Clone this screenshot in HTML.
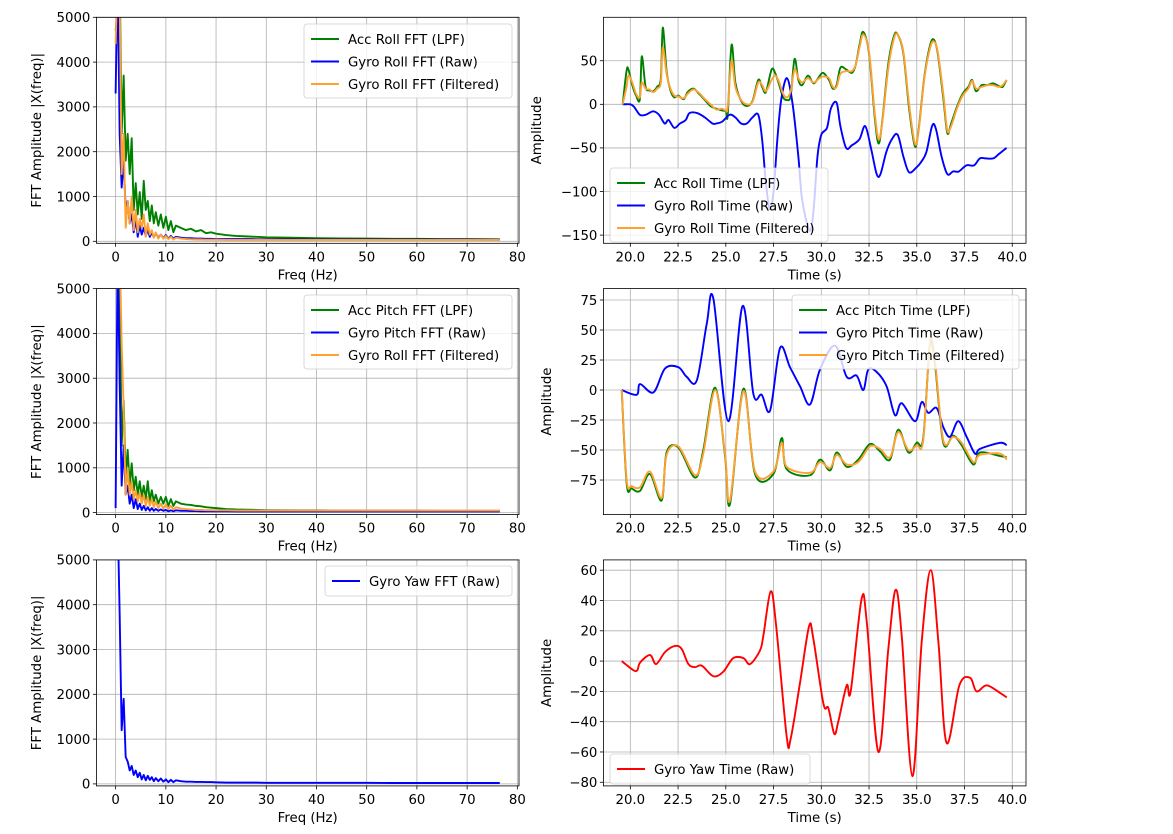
<!DOCTYPE html>
<html><head><meta charset="utf-8"><style>
body{margin:0;background:#fff;}
svg{display:block;font-family:"DejaVu Sans","Liberation Sans",sans-serif;}
</style></head><body>
<svg id="fig" width="1173" height="834" viewBox="0 0 1173 834" xmlns="http://www.w3.org/2000/svg"></svg>
<script>
// ---- FFT data ----
const fftFreq=[0,0.4,0.8,1.2,1.6,2.0,2.4,2.8,3.2,3.6,4.0,4.4,4.8,5.2,5.6,6.0,6.4,6.8,7.2,7.6,8.0,8.5,9,9.5,10,10.5,11,11.5,12,13,14,15,16,17,18,19,20,22,24,26,28,30,35,40,45,50,55,60,65,70,76.5];
const accRollFFT=[4700,5200,6000,2400,3700,1800,2400,1500,2300,700,1300,600,1100,500,1350,700,900,450,800,400,650,350,600,300,550,250,450,200,350,300,250,280,220,250,180,200,170,140,120,110,100,90,80,70,65,60,55,55,50,50,45];
const gyroRollRawFFT=[3300,6000,2400,1200,1800,700,900,400,600,200,500,100,350,150,300,120,250,100,200,90,180,80,150,70,140,60,120,60,100,80,70,70,60,60,55,55,50,50,50,50,45,45,45,40,40,40,40,40,40,40,35];
const gyroRollFiltFFT=[4400,6000,5500,1500,2400,300,900,400,1000,250,700,200,500,300,600,100,400,150,250,80,200,60,150,60,120,50,100,40,80,60,50,45,40,40,35,35,35,30,30,30,30,30,30,30,30,30,30,30,30,30,30];
const accPitchFFT=[6000,6000,5000,1500,2500,800,1400,600,1100,500,800,400,700,350,600,300,700,250,500,250,400,200,350,200,350,150,300,150,250,200,180,170,150,140,120,110,100,80,70,65,60,55,50,50,45,45,45,45,40,40,40];
const gyroPitchRawFFT=[100,6000,2900,600,1500,400,600,200,400,100,300,80,200,60,150,50,120,40,100,40,80,40,70,40,60,30,50,30,50,40,40,35,35,30,30,30,30,30,25,25,25,25,25,25,25,25,25,25,25,25,25];
const gyroPitchFiltFFT=[6000,6000,6000,3800,2300,400,1000,400,700,300,500,250,450,200,400,150,350,150,300,120,250,100,200,90,180,80,150,70,120,90,80,70,60,60,55,55,50,50,45,45,45,45,45,45,45,45,45,45,45,45,45];
const gyroYawFFT=[6000,6000,3800,1200,1900,600,500,300,400,200,300,150,250,100,200,80,180,90,150,60,130,60,120,50,100,40,90,40,80,60,50,50,45,45,40,40,35,30,30,30,30,25,25,25,25,25,20,20,20,20,20];
// ---- Roll time data ----
const rollT=[19.6,19.8,19.9,20.1,20.3,20.5,20.6,20.8,21.0,21.2,21.4,21.6,21.7,21.9,22.1,22.3,22.5,22.8,23.0,23.3,23.6,23.9,24.2,24.5,24.8,25.0,25.1,25.3,25.5,25.8,26.1,26.4,26.7,26.9,27.1,27.4,27.6,27.8,28.0,28.2,28.4,28.6,28.8,29.0,29.3,29.6,29.9,30.1,30.4,30.6,30.8,31.0,31.3,31.6,31.8,32.0,32.2,32.5,32.8,33.0,33.2,33.5,33.8,34.0,34.3,34.6,34.9,35.1,35.4,35.7,35.9,36.1,36.4,36.6,36.8,37.1,37.4,37.7,37.9,38.1,38.4,38.7,39.0,39.3,39.5,39.7];
const rollFilt=[0,20,33,25,12,8,25,18,17,14,18,25,65,35,18,10,9,7,12,17,13,6,0,-6,-5,-7,-3,50,20,5,0,3,25,22,15,28,33,25,12,8,15,40,30,25,30,25,30,32,30,20,20,35,38,38,45,65,80,60,-10,-40,-20,40,75,80,60,0,-45,-30,30,65,72,60,10,-30,-25,-5,10,18,27,18,20,22,22,20,22,28];
const rollAcc=[0,38,40,22,10,6,55,20,16,15,20,30,88,38,16,8,10,6,14,18,12,5,-2,-5,-7,-8,-12,68,25,4,-2,4,28,20,14,40,35,22,8,5,10,52,28,22,33,24,32,36,28,18,22,42,40,36,45,68,83,58,-15,-45,-18,45,78,80,58,-5,-48,-28,32,68,74,58,5,-33,-22,-3,12,20,28,15,22,22,24,21,20,28];
const rollRawT=[19.6,20.0,20.2,20.5,20.8,21.2,21.5,21.8,22.0,22.3,22.6,22.9,23.1,23.5,23.9,24.3,24.5,24.8,25.2,25.5,25.8,26.1,26.4,26.7,26.9,27.1,27.3,27.5,27.7,27.9,28.2,28.5,28.8,29.0,29.4,29.6,29.8,30.0,30.3,30.5,30.8,31.0,31.3,31.6,32.0,32.3,32.6,32.9,33.1,33.4,33.7,34.0,34.3,34.6,35.0,35.2,35.5,35.8,36.0,36.3,36.6,36.9,37.2,37.6,38.0,38.3,38.6,39.0,39.3,39.7];
const rollRaw=[0,0,-3,-12,-12,-8,-12,-22,-18,-27,-22,-18,-10,-10,-15,-22,-22,-20,-12,-15,-22,-22,-15,-12,-40,-90,-120,-100,-40,5,30,0,-60,-110,-145,-120,-60,-35,-27,-5,2,-25,-50,-47,-40,-25,-50,-80,-80,-55,-40,-35,-60,-78,-72,-67,-55,-25,-28,-60,-80,-77,-77,-70,-70,-62,-62,-62,-57,-50];
// ---- Pitch time data ----
const pitchRawT=[19.55,20.33,20.51,21.21,21.82,22.52,22.95,23.48,24.0,24.35,25.13,25.88,26.44,26.88,27.32,27.84,28.36,28.89,29.41,29.93,30.72,31.33,31.85,32.2,32.46,32.9,33.42,33.86,34.21,34.91,35.26,35.6,36.04,36.39,36.74,37.17,37.61,38.05,38.31,39.36,39.71];
const pitchRaw=[0,-4,5,-2,18,19,11,8,55,76,-26,70,-3,-4,-17,35,19,3,-12,17,37,11,12,0,17,15,3,-21,-11,-26,-10,-19,-15,-31,-39,-26,-39,-53,-49,-44,-46];
const pitchT=[19.55,19.81,20.07,20.51,21.03,21.64,21.9,22.52,23.39,23.82,24.44,24.96,25.22,25.92,26.53,27.49,27.93,28.19,29.41,29.93,30.46,30.81,31.33,31.94,32.55,33.07,33.6,34.03,34.56,34.99,35.34,35.69,35.95,36.39,36.91,37.35,37.96,38.31,39.36,39.71];
const pitchFilt=[0,-75,-80,-81,-68,-90,-54,-47,-71,-53,0,-53,-92,-1,-68,-68,-44,-64,-69,-60,-65,-54,-62,-60,-47,-49,-56,-35,-50,-46,-42,39,25,-42,-39,-44,-60,-54,-53,-58];
const pitchAcc=[0,-78,-82,-84,-70,-92,-52,-48,-73,-50,2,-55,-95,1,-70,-70,-40,-66,-71,-58,-67,-52,-64,-58,-45,-51,-58,-33,-52,-44,-40,38,22,-44,-38,-46,-62,-52,-55,-56];
// ---- Yaw time data ----
const yawT=[19.55,20.16,20.37,20.51,21.03,21.35,21.82,22.34,22.69,23.04,23.39,23.74,24.35,24.87,25.39,25.92,26.27,26.79,26.97,27.35,27.63,28.19,28.4,28.89,29.36,29.58,30.11,30.37,30.68,30.89,31.33,31.54,32.11,32.38,32.99,33.51,33.89,34.21,34.77,35.26,35.73,36.13,36.56,37.23,37.79,38.13,38.66,39.36,39.71];
const yawRaw=[0,-6,-6,-1,4,-2,6,10,8,-2,-4,-3,-10,-7,2,2,-2,7,17,46,24,-50,-51,-14,23,15,-28,-31,-48,-40,-16,-20,41,26,-60,8,47,17,-76,13,60,13,-54,-16,-11,-20,-16,-21,-24];

const NS="http://www.w3.org/2000/svg";
const fig=document.getElementById('fig');
function el(tag,attrs,parent){const e=document.createElementNS(NS,tag);for(const k in attrs)e.setAttribute(k,attrs[k]);(parent||fig).appendChild(e);return e;}
let clipId=0;
function makeAxes(name,x0,y0,w,h,xmin,xmax,ymin,ymax,xticks,xfmt,yticks,xlabel,ylabel,ylabelX){
  const g=el('g',{});
  
  
  const sx=v=>x0+(v-xmin)/(xmax-xmin)*w;
  const sy=v=>y0+h-(v-ymin)/(ymax-ymin)*h;
  const grid=el('g',{},g);
  
  
  xticks.forEach(t=>{const x=sx(t);el('line',{x1:x,x2:x,y1:y0,y2:y0+h,stroke:'#b0b0b0','stroke-width':0.8},grid);
    el('line',{x1:x,x2:x,y1:y0+h,y2:y0+h+3.5,stroke:'#000','stroke-width':0.8},g);
    const tx=el('text',{x:x,y:y0+h+18,'font-size':13.3,'text-anchor':'middle',fill:'#000'},g);tx.textContent=xfmt(t);
    
    });
  yticks.forEach(t=>{const y=sy(t);el('line',{x1:x0,x2:x0+w,y1:y,y2:y,stroke:'#b0b0b0','stroke-width':0.8},grid);
    el('line',{x1:x0-3.5,x2:x0,y1:y,y2:y,stroke:'#000','stroke-width':0.8},g);
    const tx=el('text',{x:x0-6,y:y+4.8,'font-size':13.3,'text-anchor':'end',fill:'#000'},g);tx.textContent=(t<0?'\u2212'+(-t):''+t);
    
    });
  const id='c'+(clipId++);
  const cp=el('clipPath',{id:id},g);el('rect',{x:x0,y:y0,width:w,height:h},cp);
  const plot=el('g',{'clip-path':'url(#'+id+')'},g);
  el('rect',{x:x0,y:y0,width:w,height:h,fill:'none',stroke:'#000','stroke-width':0.8},g);
  const xl=el('text',{x:x0+w/2,y:y0+h+36,'font-size':13.3,'text-anchor':'middle'},g);xl.textContent=xlabel;
  
  
  const yl=el('text',{x:ylabelX,y:y0+h/2,'font-size':13.3,'text-anchor':'middle',transform:'rotate(-90 '+ylabelX+' '+(y0+h/2)+')'},g);yl.textContent=ylabel;
  
  
  return {g,plot,sx,sy};
}
function series(ax,xs,ys,color,name,smooth){
  const P=xs.map((x,i)=>[ax.sx(x),ax.sy(ys[i])]);
  let d='M'+P[0][0].toFixed(2)+' '+P[0][1].toFixed(2);
  for(let i=1;i<P.length;i++){
    if(!smooth){d+=' L'+P[i][0].toFixed(2)+' '+P[i][1].toFixed(2);continue;}
    const p0=P[Math.max(0,i-2)],p1=P[i-1],p2=P[i],p3=P[Math.min(P.length-1,i+1)];
    const c1x=p1[0]+(p2[0]-p0[0])/6,c1y=p1[1]+(p2[1]-p0[1])/6;
    const c2x=p2[0]-(p3[0]-p1[0])/6,c2y=p2[1]-(p3[1]-p1[1])/6;
    d+=' C'+c1x.toFixed(2)+' '+c1y.toFixed(2)+' '+c2x.toFixed(2)+' '+c2y.toFixed(2)+' '+p2[0].toFixed(2)+' '+p2[1].toFixed(2);
  }
  const p=el('path',{d:d,fill:'none',stroke:color,'stroke-width':1.9,'stroke-linejoin':'round'},ax.plot);
  
  
}
function legend(name,x,y,w,entries){
  const g=el('g',{});
  
  
  const h=entries.length*22+8;
  el('rect',{x:x,y:y,width:w,height:h,rx:3,fill:'#fff','fill-opacity':0.8,stroke:'#d0d0d0','stroke-width':0.8},g);
  entries.forEach((e,i)=>{const cy=y+15+i*22.5;
    el('line',{x1:x+7,x2:x+35,y1:cy,y2:cy,stroke:e[1],'stroke-width':1.9},g);
    const t=el('text',{x:x+44,y:cy+5,'font-size':13.3},g);t.textContent=e[0];
    
    });
}
const G='#008000',B='#0000ff',O='#ffa030',R='#ff0000';
const LX=96.4,RX=603.4,W=422.6,H=226,tops=[17.3,288.6,559.9];
const fx=[0,10,20,30,40,50,60,70,80],fy=[0,1000,2000,3000,4000,5000];
const tx=[20,22.5,25,27.5,30,32.5,35,37.5,40];
const f0=v=>''+v,f1=v=>v.toFixed(1);
const FFTY='FFT Amplitude |X(freq)|';
// Row 1
let a=makeAxes('roll-fft-axes',LX,tops[0],W,H,-3.83,80.33,-44.6,5000,fx,f0,fy,'Freq (Hz)',FFTY,41);
series(a,fftFreq,accRollFFT,G,'acc-roll-fft-line');series(a,fftFreq,gyroRollRawFFT,B,'gyro-roll-raw-fft-line');series(a,fftFreq,gyroRollFiltFFT,O,'gyro-roll-filtered-fft-line');
legend('roll-fft-legend',304,24,208,[['Acc Roll FFT (LPF)',G],['Gyro Roll FFT (Raw)',B],['Gyro Roll FFT (Filtered)',O]]);
a=makeAxes('roll-time-axes',RX,tops[0],W,H,18.59,40.72,-159.4,99.8,tx,f1,[-150,-100,-50,0,50],'Time (s)','Amplitude',541);
series(a,rollT,rollAcc,G,'acc-roll-time-line',1);series(a,rollRawT,rollRaw,B,'gyro-roll-raw-time-line',1);series(a,rollT,rollFilt,O,'gyro-roll-filtered-time-line',1);
legend('roll-time-legend',610,168,218,[['Acc Roll Time (LPF)',G],['Gyro Roll Time (Raw)',B],['Gyro Roll Time (Filtered)',O]]);
// Row 2
a=makeAxes('pitch-fft-axes',LX,tops[1],W,H,-3.83,80.33,-44.6,5000,fx,f0,fy,'Freq (Hz)',FFTY,41);
series(a,fftFreq,accPitchFFT,G,'acc-pitch-fft-line');series(a,fftFreq,gyroPitchRawFFT,B,'gyro-pitch-raw-fft-line');series(a,fftFreq,gyroPitchFiltFFT,O,'gyro-pitch-filtered-fft-line');
legend('pitch-fft-legend',304,295,208,[['Acc Pitch FFT (LPF)',G],['Gyro Pitch FFT (Raw)',B],['Gyro Roll FFT (Filtered)',O]]);
a=makeAxes('pitch-time-axes',RX,tops[1],W,H,18.59,40.72,-103.8,84.5,tx,f1,[-75,-50,-25,0,25,50,75],'Time (s)','Amplitude',551);
series(a,pitchT,pitchAcc,G,'acc-pitch-time-line',1);series(a,pitchRawT,pitchRaw,B,'gyro-pitch-raw-time-line',1);series(a,pitchT,pitchFilt,O,'gyro-pitch-filtered-time-line',1);
legend('pitch-time-legend',792,295,227,[['Acc Pitch Time (LPF)',G],['Gyro Pitch Time (Raw)',B],['Gyro Pitch Time (Filtered)',O]]);
// Row 3
a=makeAxes('yaw-fft-axes',LX,tops[2],W,H,-3.83,80.33,-44.6,5000,fx,f0,fy,'Freq (Hz)',FFTY,41);
series(a,fftFreq,gyroYawFFT,B,'gyro-yaw-raw-fft-line');
legend('yaw-fft-legend',325,566,187,[['Gyro Yaw FFT (Raw)',B]]);
a=makeAxes('yaw-time-axes',RX,tops[2],W,H,18.59,40.72,-82.4,66.8,tx,f1,[-80,-60,-40,-20,0,20,40,60],'Time (s)','Amplitude',551);
series(a,yawT,yawRaw,R,'gyro-yaw-raw-time-line',1);
legend('yaw-time-legend',610,754,200,[['Gyro Yaw Time (Raw)',R]]);
</script>
</body></html>
